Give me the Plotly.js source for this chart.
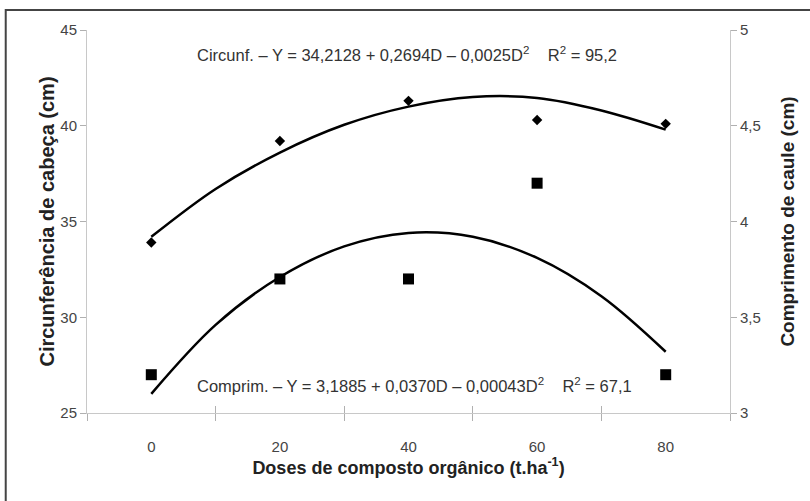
<!DOCTYPE html>
<html>
<head>
<meta charset="utf-8">
<script src="https://cdn.plot.ly/plotly-3.0.1.min.js"></script>
<style>html,body{margin:0;padding:0;background:#fff;}#chart{width:810px;height:501px;}</style>
</head>
<body>
<div id="chart"></div>
<script>
// Observed points
var doses = [0, 20, 40, 60, 80];
var circunf = [33.9, 39.2, 41.3, 40.3, 40.1];
var comprim = [3.2, 3.7, 3.7, 4.2, 3.2];
// Fitted curves
var curveDoses = [0, 10, 20, 30, 40, 50, 60, 70, 80];
var circunfCurve = [34.2, 36.7, 38.6, 40.05, 41.0, 41.5, 41.45, 40.8, 39.8];
var comprimCurve = [3.10, 3.46, 3.71, 3.87, 3.94, 3.92, 3.81, 3.61, 3.32];
// Tick labels / boundaries
var xTickVals = [0, 20, 40, 60, 80];
var xBoundaries = [-10, 10, 30, 50, 70, 90];

var traces = [
  {x: curveDoses, y: circunfCurve, type: 'scatter', mode: 'lines', line: {color: '#000', width: 2.5, shape: 'spline'}, xaxis: 'x', yaxis: 'y', showlegend: false, hoverinfo: 'skip'},
  {x: doses, y: circunf, type: 'scatter', mode: 'markers', marker: {symbol: 'diamond', size: 8, color: '#000'}, xaxis: 'x', yaxis: 'y', showlegend: false},
  {x: curveDoses, y: comprimCurve, type: 'scatter', mode: 'lines', line: {color: '#000', width: 2.5, shape: 'spline'}, xaxis: 'x2', yaxis: 'y2', showlegend: false, hoverinfo: 'skip'},
  {x: doses, y: comprim, type: 'scatter', mode: 'markers', marker: {symbol: 'square', size: 11, color: '#000'}, xaxis: 'x2', yaxis: 'y2', showlegend: false}
];

var fam = 'Liberation Sans, Arial, sans-serif';
var tickFont = {family: fam, size: 15, color: '#444'};
var noteFont = {family: fam, size: 16.5, color: '#333'};

var layout = {
  width: 810, height: 501,
  margin: {l: 87, r: 80, t: 30, b: 88},
  paper_bgcolor: '#fff', plot_bgcolor: '#fff',
  separators: ', ',
  showlegend: false,
  xaxis: {
    range: [-10, 90], tickmode: 'array', tickvals: xTickVals, ticks: '',
    showline: true, linecolor: '#c8c8c8', linewidth: 1, showgrid: false, zeroline: false,
    tickfont: tickFont, ticklabelstandoff: 20,
    minor: {tickmode: 'array', tickvals: xBoundaries, ticks: 'outside', ticklen: 7, tickcolor: '#b0b0b0', showgrid: false},
    title: {text: '<b>Doses de composto orgânico (t.ha<sup>-1</sup>)</b>', font: {family: fam, size: 18, color: '#222'}, standoff: 0}
  },
  xaxis2: {
    range: [-10, 90], overlaying: 'x', anchor: 'y2', side: 'bottom',
    tickmode: 'array', tickvals: xBoundaries, ticks: 'inside', ticklen: 7, tickcolor: '#b0b0b0',
    showticklabels: false, showline: false, showgrid: false, zeroline: false
  },
  yaxis: {
    range: [25, 45], tickmode: 'linear', tick0: 25, dtick: 5, ticks: 'outside', ticklen: 6, tickcolor: '#b0b0b0',
    showline: true, linecolor: '#c8c8c8', linewidth: 1, showgrid: false, zeroline: false,
    tickfont: tickFont,
    title: {text: '<b>Circunferência de cabeça (cm)</b>', font: {family: fam, size: 20, color: '#222'}, standoff: 0}
  },
  yaxis2: {
    range: [3, 5], tickmode: 'linear', tick0: 3, dtick: 0.5, ticks: 'outside', ticklen: 6, tickcolor: '#b0b0b0',
    overlaying: 'y', side: 'right', anchor: 'x2',
    showline: true, linecolor: '#c8c8c8', linewidth: 1, showgrid: false, zeroline: false,
    tickfont: tickFont,
    title: {text: '<b>Comprimento de caule (cm)</b>', font: {family: fam, size: 19, color: '#222'}, standoff: 20}
  },
  annotations: [
    {xref: 'x', yref: 'paper', x: 6.8, y: 0.937, showarrow: false, xanchor: 'left', yanchor: 'middle',
     text: 'Circunf. – Y = 34,2128 + 0,2694D – 0,0025D<sup>2</sup>\u00A0\u00A0\u00A0\u00A0R<sup>2</sup> = 95,2',
     font: noteFont},
    {xref: 'x', yref: 'paper', x: 6.8, y: 0.073, showarrow: false, xanchor: 'left', yanchor: 'middle',
     text: 'Comprim. – Y = 3,1885 + 0,0370D – 0,00043D<sup>2</sup>\u00A0\u00A0\u00A0\u00A0R<sup>2</sup> = 67,1',
     font: noteFont}
  ],
  shapes: [
    {type: 'rect', xref: 'paper', yref: 'paper', x0: -0.1264, x1: 1.13, y0: -0.24, y1: 1.0522,
     line: {color: '#444', width: 2}, fillcolor: 'rgba(0,0,0,0)'}
  ]
};

Plotly.newPlot('chart', traces, layout, {staticPlot: true, displayModeBar: false});
</script>
</body>
</html>
